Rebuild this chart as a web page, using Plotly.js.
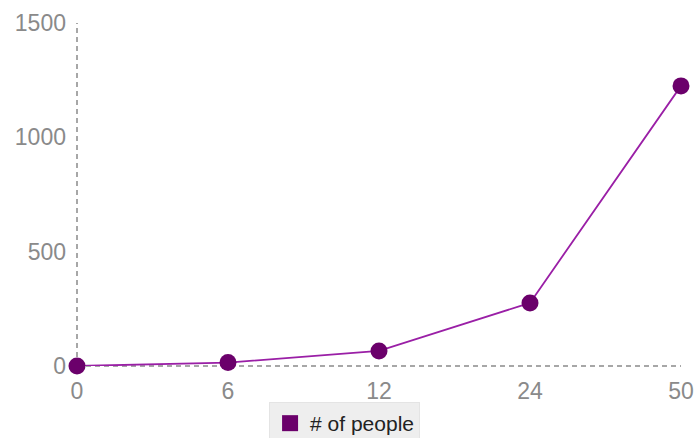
<!DOCTYPE html>
<html>
<head>
<meta charset="utf-8">
<script src="https://cdn.plot.ly/plotly-3.0.1.min.js"></script>
<style>html,body{margin:0;padding:0;background:#fff;}#chart{width:697px;height:438px;}</style>
</head>
<body>
<div id="chart"></div>
<script>
const categories = ['0', '6', '12', '24', '50'];
const people = [0, 15, 66, 276, 1225];
const seriesName = '# of people';
const yTicks = [0, 500, 1000, 1500];

const lineTrace = {
  x: categories,
  y: people,
  type: 'scatter',
  mode: 'lines+markers',
  name: seriesName,
  showlegend: false,
  cliponaxis: false,
  line: {color: '#9a1fa6', width: 1.8},
  marker: {color: '#6b006b', size: 17}
};
const legendTrace = {
  x: [null],
  y: [null],
  type: 'scatter',
  mode: 'markers',
  name: seriesName,
  showlegend: true,
  marker: {color: '#6b006b', symbol: 'square', size: 20}
};

const axisFont = {family: 'Liberation Sans, Arial, sans-serif', size: 23, color: '#8a8a8a'};
const layout = {
  width: 697, height: 438,
  margin: {l: 77, r: 16, t: 23, b: 72, autoexpand: false},
  paper_bgcolor: '#fff', plot_bgcolor: '#fff',
  xaxis: {
    type: 'category', range: [0, 4], showgrid: false, zeroline: false, showline: false,
    ticks: '', tickfont: axisFont, ticklabelstandoff: 9, automargin: false
  },
  yaxis: {
    range: [0, 1500], tickvals: yTicks, showgrid: false, zeroline: false, showline: false,
    ticks: '', tickfont: axisFont, ticklabelstandoff: 10, automargin: false
  },
  shapes: [
    {type: 'line', xref: 'paper', yref: 'paper', x0: 0, x1: 0, y0: 0, y1: 1, layer: 'below',
     line: {color: '#8a8a8a', width: 1.5, dash: '5px,4px'}},
    {type: 'line', xref: 'paper', yref: 'paper', x0: 0, x1: 1, y0: 0, y1: 0, layer: 'below',
     line: {color: '#8a8a8a', width: 1.5, dash: '5px,4px'}}
  ],
  showlegend: true,
  legend: {
    orientation: 'h', x: 0.443, xanchor: 'center', y: -0.105, yanchor: 'top',
    bgcolor: '#eeeeee', bordercolor: '#e4e4e4', borderwidth: 1,
    font: {family: 'Liberation Sans, Arial, sans-serif', size: 21, color: '#222'},
    itemwidth: 30
  }
};
Plotly.newPlot('chart', [lineTrace, legendTrace], layout, {displayModeBar: false, staticPlot: true});
</script>
</body>
</html>
